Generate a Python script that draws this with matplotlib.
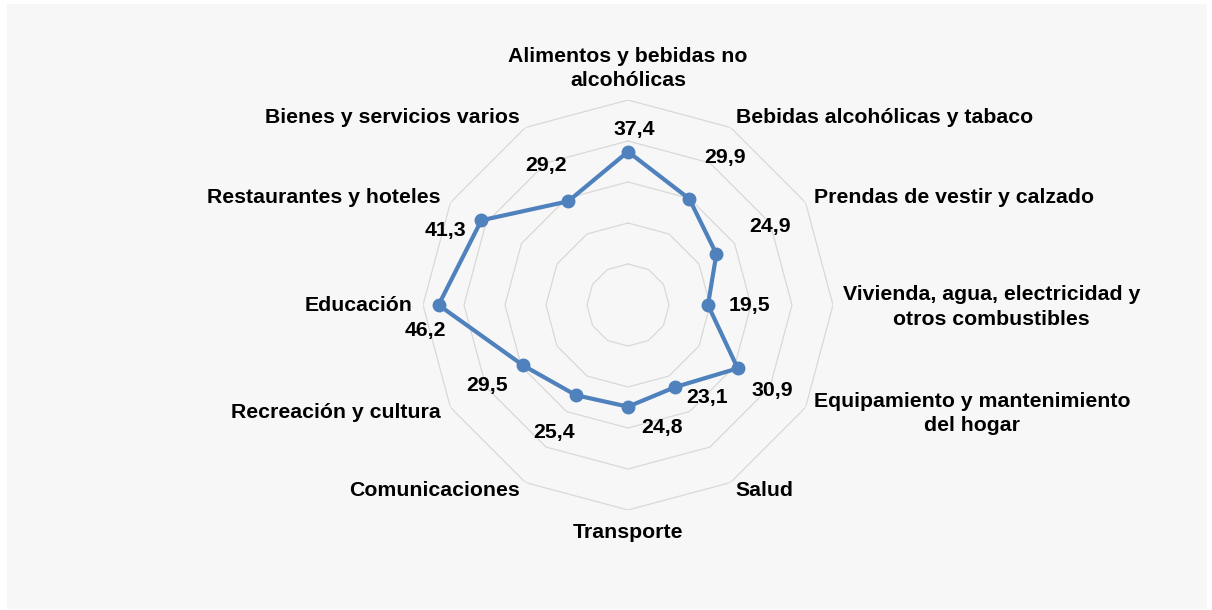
import numpy as np
import matplotlib
matplotlib.use("Agg")
import matplotlib.pyplot as plt
from matplotlib.patches import Rectangle

# --- dane ---
categories = [
    "Alimentos y bebidas no\nalcohólicas",
    "Bebidas alcohólicas y tabaco",
    "Prendas de vestir y calzado",
    "Vivienda, agua, electricidad y\notros combustibles",
    "Equipamiento y mantenimiento\ndel hogar",
    "Salud",
    "Transporte",
    "Comunicaciones",
    "Recreación y cultura",
    "Educación",
    "Restaurantes y hoteles",
    "Bienes y servicios varios",
]
values = [37.4, 29.9, 24.9, 19.5, 30.9, 23.1, 24.8, 25.4, 29.5, 46.2, 41.3, 29.2]
rings = [10, 20, 30, 40, 50]

# przesuniecia etykiet (piksele) i wyrownanie
cat_offsets = [(0, 10), (5, 10), (8, 5), (10, -2), (8, -6), (5, -8),
               (0, -23), (-6, -8), (-10, -5), (-11, 0), (-10, 5), (-6, 10)]
cat_ha = ["center", "left", "left", "left", "left", "left",
          "center", "right", "right", "right", "right", "right"]
cat_va = ["bottom", "center", "center", "center", "center", "center",
          "center", "center", "center", "center", "center", "center"]
val_offsets = [(6, 22), (36, 41), (54, 27), (41, 0), (35, -22), (32, -10),
               (34, -21), (-22, -37), (-36, -20), (-13, -25), (-36, -10), (-22, 36)]

LINE = "#4f81bd"
GRID = "#d9d9d9"
FS = 15.3

plt.rcParams["font.family"] = ["Liberation Sans", "DejaVu Sans"]

fig = plt.figure(figsize=(12.12, 6.10), dpi=100)
fig.patches.append(Rectangle((7 / 1212, 1 / 610), 1200 / 1212, 605 / 610,
                             transform=fig.transFigure, facecolor="#f7f7f7",
                             edgecolor="none", zorder=-10))

ax = fig.add_axes([(628 - 205) / 1212, (610 - 305 - 205) / 610, 410 / 1212, 410 / 610],
                  projection="polar")
ax.set_facecolor("none")
ax.set_theta_offset(np.pi / 2)
ax.set_theta_direction(-1)
ax.set_ylim(0, 50)
ax.grid(False)
ax.set_xticks([])
ax.set_yticks([])
ax.spines["polar"].set_visible(False)

n = len(categories)
theta = np.linspace(0, 2 * np.pi, n, endpoint=False)
theta_c = np.append(theta, theta[0])

for r in rings:
    ax.plot(theta_c, [r] * (n + 1), color=GRID, lw=0.9, zorder=1)

vals_c = values + values[:1]
ax.plot(theta_c, vals_c, color=LINE, lw=3, zorder=3, clip_on=False)
ax.plot(theta, values, "o", color=LINE, ms=9, zorder=4, clip_on=False)

for t, lab, off, ha, va in zip(theta, categories, cat_offsets, cat_ha, cat_va):
    ax.annotate(lab, xy=(t, rings[-1]), xytext=off, textcoords="offset pixels",
                ha=ha, va=va, multialignment="center", fontsize=FS,
                fontweight="bold", linespacing=1.35, annotation_clip=False)

for t, v, off in zip(theta, values, val_offsets):
    ax.annotate(f"{v:.1f}".replace(".", ","), xy=(t, v), xytext=off,
                textcoords="offset pixels", ha="center", va="center",
                fontsize=FS, fontweight="bold", annotation_clip=False)

fig.savefig("out.png", dpi=100)
